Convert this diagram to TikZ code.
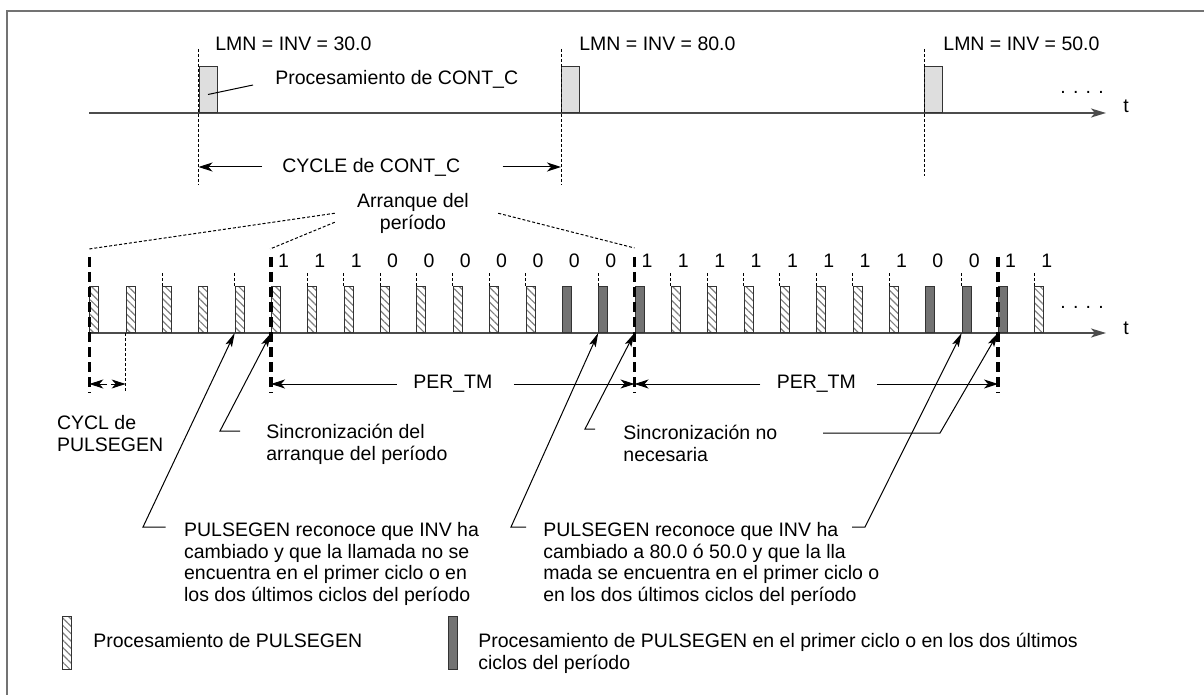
\documentclass[tikz,border=0pt]{standalone}
\usepackage{fontspec}
\setmainfont{Liberation Sans}
\usetikzlibrary{arrows.meta,positioning,patterns.meta}

\begin{document}
\begin{tikzpicture}[x=0.5pt,y=-0.5pt,
    font=\fontsize{9.75}{10.75}\selectfont,
    ax/.style={draw=black!70,line width=1pt,-{Stealth[length=7.5pt,width=4.5pt,inset=2pt]}},
    cb/.style={draw=black!80,fill=black!13,line width=0.5pt,minimum width=9pt,minimum height=23pt,inner sep=0pt,anchor=south west},
    bx/.style={draw=black!80,line width=0.5pt,minimum width=4.5pt,minimum height=23pt,inner sep=0pt,anchor=south west},
    hb/.style={bx,pattern={Lines[angle=-45,distance=2.6pt,line width=0.6pt]},pattern color=black!50},
    db/.style={bx,fill=black!55},
    td/.style={line width=0.5pt,dash pattern=on 1.5pt off 1pt},
    pl/.style={line width=1.7pt,dash pattern=on 5pt off 2.5pt},
    ar/.style={line width=0.5pt,-{Stealth[length=7pt,width=4.5pt,inset=2pt]}},
    la/.style={line width=0.5pt,-{Stealth[length=7pt,width=3.5pt,inset=1.5pt]}},
    tx/.style={inner sep=0pt},
    ml/.style={inner sep=0pt,align=left,anchor=north west}]
  \useasboundingbox (0,0) rectangle (1204,695);
  \draw[black!55,line width=0.75pt] (7,695) -- (7,11) -- (1204,11);

  \coordinate (a0) at (89,113);
  \coordinate (a1) at (1106,113);
  \draw[ax] (a0) -- (a1);
  \node[tx,anchor=base west] (t1) at (1123,113) {t};
  \node[tx,anchor=base west] (dt1) at (1060,94) {. . . .};
  \foreach \i/\x/\e/\v/\o in {1/198.5/-36pt/30.0/8.25pt,2/561/-36pt/80.0/9pt,3/924/-31.5pt/50.0/9.5pt}{
    \node[cb] (c\i) at (\x,113) {};
    \draw[td] ([yshift=32pt]c\i.south west) -- ([yshift=\e]c\i.south west);
    \node[tx,anchor=west] (m\i) at ([xshift=\o,yshift=11pt]c\i.north west) {LMN = INV = \v};
  }
  \node[tx,anchor=base west] (pc) at (275,85) {Procesamiento de CONT\_C};
  \draw[line width=0.5pt] ([yshift=-2.5pt]c1.center) -- ([xshift=-11pt]pc.base west);
  \node[tx,anchor=west] (cy) at (282,167) {CYCLE de CONT\_C};
  \draw[ar] ([xshift=-10pt]cy.west) -- (c1.south west |- cy.west);
  \draw[ar] ([xshift=21pt]cy.east) -- (c2.south west |- cy.east);

  \node[tx,align=center,anchor=north] (arr) at (413,193) {Arranque del\\período};
  \draw[td] ([xshift=-11pt]arr.west) -- (89,249);
  \draw[td] ([xshift=-11pt,yshift=-4.5pt]arr.west) -- (270,249);
  \draw[td] ([xshift=14.5pt]arr.east) -- (634.5,248);

  \coordinate (b0a) at (89,333);
  \coordinate (b1a) at (1106,333);
  \draw[ax] (b0a) -- (b1a);
  \node[tx,anchor=base west] (t2) at (1123,334) {t};
  \node[tx,anchor=base west] (dt2) at (1060,308) {. . . .};
  \foreach \k in {0,...,12,16,17,...,22,26}
    \node[hb] (b\k) at ({89.3+36.35*\k},333) {};
  \foreach \k in {13,14,15,23,24,25}
    \node[db] (b\k) at ({89.3+36.35*\k},333) {};
  \foreach \k in {2,4,6,7,...,12,14,16,17,...,22,24,26}
    \draw[td] (b\k.north west) -- ([yshift=7.5pt]b\k.north west);
  \foreach \d [count=\k from 5] in {1,1,1,0,0,0,0,0,0,0,1,1,1,1,1,1,1,1,0,0,1,1}
    \node[tx,anchor=base] (d\k) at ([xshift=6.25pt,yshift=9pt]b\k.north west) {\d};
  \foreach \k in {0,5,15,25}
    \draw[pl] ([yshift=38pt]b\k.south west) -- ([yshift=-30pt]b\k.south west);

  \draw[td] (b1.south west) -- ([yshift=-30pt]b1.south west);
  \coordinate (dm) at (109,384);
  \draw[ar] ([xshift=-1pt]dm) -- (dm -| b0.south west);
  \draw[ar] ([xshift=1pt]dm) -- (dm -| b1.south west);
  \node[ml] (cp) at (56.6,415) {CYCL de\\PULSEGEN};
  \node[tx] (pt1) at (452.8,384) {PER\_TM};
  \node[tx] (pt2) at (816.3,384) {PER\_TM};
  \draw[ar] ([xshift=-8pt]pt1.west) -- (pt1.west -| b5.south west);
  \draw[ar] ([xshift=10.5pt]pt1.east) -- (pt1.east -| b15.south west);
  \draw[ar] ([xshift=-8pt]pt2.west) -- (pt2.west -| b15.south west);
  \draw[ar] ([xshift=10.5pt]pt2.east) -- (pt2.east -| b25.south west);

  \node[ml] (sd) at (266,424) {Sincronización del\\arranque del período};
  \coordinate (k1) at (220,431);
  \draw[la] ([xshift=-13pt]sd.north west |- k1) -- (k1) -- (b5.south west);
  \node[ml] (sn) at (623,425) {Sincronización no\\necesaria};
  \coordinate (k2) at (585,429);
  \draw[la] ([xshift=-14pt]sn.north west |- k2) -- (k2) -- (b15.south west);
  \coordinate (k3) at (940,433);
  \draw[la] (823,433) -- (k3) -- (b25.south west);

  \node[ml] (pg1) at (183.7,522) {PULSEGEN reconoce que INV ha\\cambiado y que la llamada no se\\encuentra en el primer ciclo o en\\los dos últimos ciclos del período};
  \coordinate (k4) at (143,527);
  \draw[la] ([xshift=-9pt]pg1.north west |- k4) -- (k4) -- (b4.south west);
  \node[ml] (pg2) at (543,522) {PULSEGEN reconoce que INV ha\\cambiado a 80.0 ó 50.0 y que la lla\\mada se encuentra en el primer ciclo o\\en los dos últimos ciclos del período};
  \coordinate (k5) at (511,527);
  \draw[la] ([xshift=-8.5pt]pg2.north west |- k5) -- (k5) -- (b14.south west);
  \coordinate (k6) at (865,527);
  \draw[la] (852,527) -- (k6) -- (b24.south west);

  \node[hb,minimum height=26.5pt] (lg1) at (62,670) {};
  \node[ml] (lt1) at (93,633) {Procesamiento de PULSEGEN};
  \node[db,minimum height=26.5pt] (lg2) at (448,670) {};
  \node[ml] (lt2) at (478,633) {Procesamiento de PULSEGEN en el primer ciclo o en los dos últimos\\ciclos del período};
\end{tikzpicture}
\end{document}
